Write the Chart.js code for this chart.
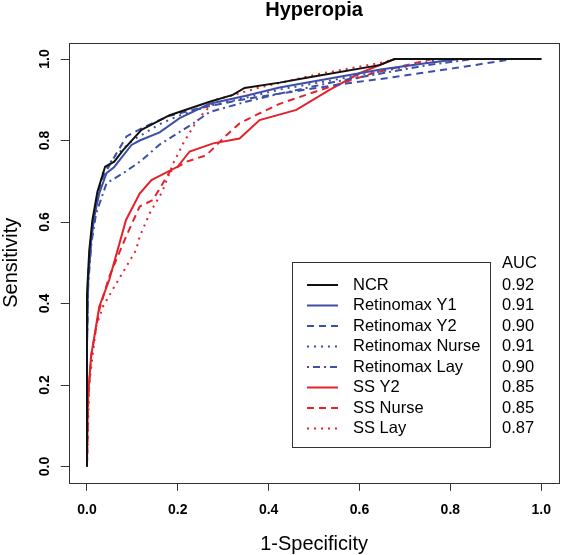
<!DOCTYPE html>
<html>
<head>
<meta charset="utf-8">
<script src="https://cdn.jsdelivr.net/npm/chart.js@4"></script>
<style>
  html, body { margin: 0; padding: 0; background: #fff; }
  #wrap { width: 562px; height: 555px; }
</style>
</head>
<body>
<div id="wrap"><canvas id="rocChart" width="562" height="555"></canvas></div>
<script>
// ROC curves: x = 1-Specificity, y = Sensitivity
const ncrX = [0, 0, 0.005, 0.012, 0.023, 0.04, 0.06, 0.08, 0.12, 0.182, 0.27, 0.321, 0.347, 0.424, 0.49, 0.644, 0.677, 1];
const ncrY = [0, 0.42, 0.53, 0.605, 0.674, 0.736, 0.748, 0.777, 0.826, 0.862, 0.895, 0.912, 0.929, 0.942, 0.955, 0.985, 1, 1];

const retY1X = [0, 0, 0.002, 0.009, 0.016, 0.027, 0.043, 0.06, 0.098, 0.116, 0.16, 0.204, 0.27, 0.35, 0.424, 0.55, 0.65, 0.75, 0.82, 1];
const retY1Y = [0, 0.29, 0.45, 0.55, 0.613, 0.67, 0.72, 0.735, 0.789, 0.80, 0.82, 0.855, 0.89, 0.91, 0.93, 0.955, 0.975, 0.99, 1, 1];

const retY2X = [0, 0, 0.003, 0.01, 0.02, 0.035, 0.05, 0.087, 0.12, 0.18, 0.25, 0.34, 0.424, 0.571, 0.659, 0.732, 0.805, 0.9, 0.936, 1];
const retY2Y = [0, 0.3, 0.47, 0.57, 0.64, 0.71, 0.74, 0.81, 0.83, 0.86, 0.88, 0.9, 0.915, 0.94, 0.953, 0.965, 0.977, 0.993, 1, 1];

const retNurseX = [0, 0, 0.003, 0.01, 0.02, 0.035, 0.06, 0.1, 0.16, 0.2, 0.27, 0.35, 0.424, 0.55, 0.65, 0.72, 0.78, 1];
const retNurseY = [0, 0.32, 0.48, 0.58, 0.65, 0.72, 0.76, 0.8, 0.84, 0.86, 0.885, 0.905, 0.925, 0.95, 0.97, 0.985, 1, 1];

const retLayX = [0, 0, 0.003, 0.01, 0.02, 0.043, 0.08, 0.119, 0.16, 0.234, 0.27, 0.35, 0.424, 0.55, 0.65, 0.75, 0.85, 1];
const retLayY = [0, 0.3, 0.45, 0.55, 0.62, 0.695, 0.72, 0.75, 0.79, 0.842, 0.87, 0.895, 0.915, 0.945, 0.965, 0.985, 1, 1];

const ssY2X = [0, 0.002, 0.009, 0.027, 0.049, 0.086, 0.116, 0.142, 0.2, 0.226, 0.278, 0.336, 0.38, 0.461, 0.534, 0.6, 0.677, 1];
const ssY2Y = [0, 0.163, 0.27, 0.392, 0.458, 0.605, 0.67, 0.703, 0.736, 0.773, 0.793, 0.805, 0.85, 0.875, 0.924, 0.965, 1, 1];

const ssNurseX = [0, 0.003, 0.009, 0.027, 0.049, 0.086, 0.116, 0.145, 0.182, 0.219, 0.263, 0.307, 0.336, 0.373, 0.424, 0.53, 0.629, 0.76, 1];
const ssNurseY = [0, 0.17, 0.27, 0.384, 0.466, 0.564, 0.638, 0.654, 0.723, 0.748, 0.764, 0.813, 0.842, 0.863, 0.89, 0.93, 0.965, 1, 1];

const ssLayX = [0, 0.005, 0.02, 0.035, 0.056, 0.108, 0.116, 0.138, 0.166, 0.19, 0.212, 0.234, 0.256, 0.285, 0.38, 0.49, 0.519, 0.644, 0.68, 1];
const ssLayY = [0, 0.204, 0.343, 0.392, 0.433, 0.531, 0.564, 0.621, 0.675, 0.744, 0.793, 0.834, 0.867, 0.9, 0.93, 0.958, 0.965, 0.99, 1, 1];

const seriesNames = ['NCR', 'Retinomax Y1', 'Retinomax Y2', 'Retinomax Nurse', 'Retinomax Lay', 'SS Y2', 'SS Nurse', 'SS Lay'];
const aucValues = ['0.92', '0.91', '0.90', '0.91', '0.90', '0.85', '0.85', '0.87'];
const tickValues = [0, 0.2, 0.4, 0.6, 0.8, 1.0];

const BLACK = '#111111';
const BLUE = '#3d4fa6';
const RED = '#e4222b';
const styles = [
  { color: BLACK, dash: [] },
  { color: BLUE, dash: [] },
  { color: BLUE, dash: [7, 5] },
  { color: BLUE, dash: [2, 5] },
  { color: BLUE, dash: [2, 4, 7, 4] },
  { color: RED, dash: [] },
  { color: RED, dash: [7, 5] },
  { color: RED, dash: [2, 5] }
];
const curves = [
  [ncrX, ncrY], [retY1X, retY1Y], [retY2X, retY2Y], [retNurseX, retNurseY],
  [retLayX, retLayY], [ssY2X, ssY2Y], [ssNurseX, ssNurseY], [ssLayX, ssLayY]
];

const FONT = '"Liberation Sans", Arial, sans-serif';

const datasets = curves.map((c, i) => ({
  label: seriesNames[i],
  data: c[0].map((x, k) => ({ x: x, y: c[1][k] })),
  showLine: true,
  borderColor: styles[i].color,
  borderWidth: 2,
  borderDash: styles[i].dash,
  pointRadius: 0,
  fill: false,
  tension: 0
}));

// frame, texts and legend in the style of base R graphics
const rDecor = {
  id: 'rDecor',
  beforeDraw(chart) {
    const c = chart.ctx;
    c.save();
    c.fillStyle = '#fff';
    c.fillRect(0, 0, chart.width, chart.height);
    c.restore();
  },
  afterDraw(chart) {
    const c = chart.ctx;
    const a = chart.chartArea;
    const ys = chart.scales.y;
    c.save();
    // box
    c.strokeStyle = '#333';
    c.lineWidth = 1;
    c.strokeRect(Math.round(a.left) + 0.5, Math.round(a.top) + 0.5,
      Math.round(a.right - a.left) - 1, Math.round(a.bottom - a.top));

    // title
    c.fillStyle = '#000';
    c.font = 'bold 20px ' + FONT;
    c.textAlign = 'center';
    c.textBaseline = 'alphabetic';
    c.fillText('Hyperopia', (a.left + a.right) / 2, 16);

    // x axis title
    c.font = '20px ' + FONT;
    c.fillText('1-Specificity', (a.left + a.right) / 2, 550);

    // y tick labels (rotated) and title
    c.font = 'bold 14px ' + FONT;
    c.textBaseline = 'middle';
    tickValues.forEach(v => {
      c.save();
      c.translate(45, ys.getPixelForValue(v));
      c.rotate(-Math.PI / 2);
      c.fillText(v.toFixed(1), 0, 0);
      c.restore();
    });
    c.save();
    c.font = '20px ' + FONT;
    c.translate(11.5, (a.top + a.bottom) / 2);
    c.rotate(-Math.PI / 2);
    c.fillText('Sensitivity', 0, 0);
    c.restore();

    // legend
    const lx = 292, ly = 262, lw = 198, lh = 185;
    c.strokeStyle = '#333';
    c.lineWidth = 1;
    c.strokeRect(lx + 0.5, ly + 0.5, lw, lh);
    c.font = '16.5px ' + FONT;
    c.textAlign = 'left';
    c.fillText('AUC', 502, 263);
    seriesNames.forEach((name, i) => {
      const y = 285 + i * 20.5;
      c.beginPath();
      c.strokeStyle = styles[i].color;
      c.lineWidth = 2;
      c.setLineDash(styles[i].dash);
      c.moveTo(307, y);
      c.lineTo(338, y);
      c.stroke();
      c.setLineDash([]);
      c.fillStyle = '#000';
      c.fillText(name, 353, y);
      c.fillText(aucValues[i], 502, y);
    });
    c.restore();
  }
};

const ctx = document.getElementById('rocChart').getContext('2d');
const rocChart = new Chart(ctx, {
  type: 'scatter',
  data: { datasets: datasets },
  options: {
    responsive: false,
    animation: false,
    layout: { padding: { left: 0, right: 1.8, top: 42.7, bottom: 0 } },
    plugins: { legend: { display: false }, title: { display: false }, tooltip: { enabled: false } },
    scales: {
      x: {
        type: 'linear',
        min: -0.04,
        max: 1.04,
        afterBuildTicks: s => { s.ticks = tickValues.map(v => ({ value: v })); },
        afterFit: s => { s.height = 72.2; },
        grid: { drawOnChartArea: false, drawTicks: true, tickLength: 8, color: '#333', lineWidth: 1 },
        border: { display: false },
        ticks: {
          color: '#000',
          font: { family: FONT, size: 14, weight: 'bold' },
          padding: 11,
          maxRotation: 0,
          callback: v => Number(v).toFixed(1)
        }
      },
      y: {
        type: 'linear',
        min: -0.04,
        max: 1.04,
        afterBuildTicks: s => { s.ticks = tickValues.map(v => ({ value: v })); },
        afterFit: s => { s.width = 68.8; },
        grid: { drawOnChartArea: false, drawTicks: true, tickLength: 8, color: '#333', lineWidth: 1 },
        border: { display: false },
        ticks: { display: false }
      }
    }
  },
  plugins: [rDecor]
});
</script>
</body>
</html>
